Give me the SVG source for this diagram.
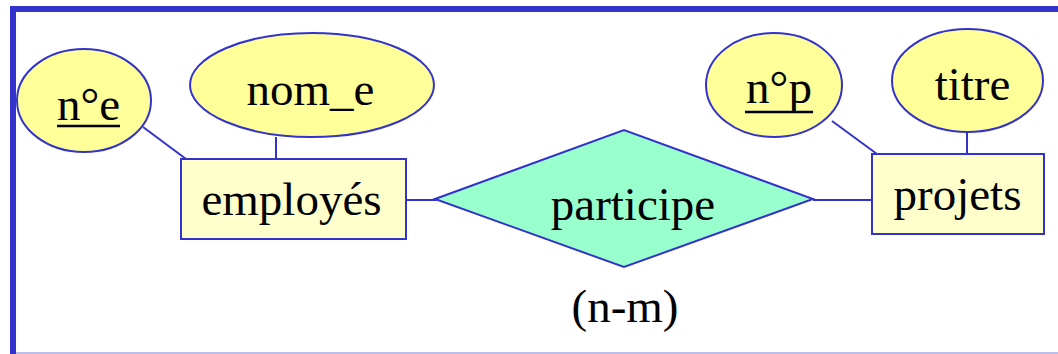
<svg xmlns="http://www.w3.org/2000/svg" width="1058" height="354" viewBox="0 0 1058 354">
  <style>
    .attr { fill: #ffff99; stroke: #3333cc; stroke-width: 2; }
    .ent { fill: #ffffcc; stroke: #3333cc; stroke-width: 2; }
    .rel { fill: #99ffcc; stroke: #3333cc; stroke-width: 2; }
    .lbl { font-family: 'Liberation Serif', 'Times New Roman', serif; font-size: 47px; fill: #000; text-anchor: middle; }
    .ul { stroke: #000; stroke-width: 2.5; }
    .link { stroke: #3333cc; stroke-width: 2; fill: none; }
  </style>

  <!-- frame -->
  <rect x="0" y="0" width="1058" height="354" fill="#ffffff"/>
  <rect x="10" y="6" width="1048" height="6" fill="#3333cc"/>
  <rect x="10" y="6" width="6" height="348" fill="#3333cc"/>
  <line x1="16" y1="353" x2="1058" y2="353" stroke="#aaaadd" stroke-width="1.5"/>

  <!-- connectors -->
  <g id="connectors">
    <line class="link" x1="143" y1="127" x2="186" y2="159"/>
    <line class="link" x1="276" y1="137" x2="276" y2="159"/>
    <line class="link" x1="406" y1="200" x2="437" y2="200"/>
    <line class="link" x1="813" y1="200" x2="872" y2="200"/>
    <line class="link" x1="832" y1="121" x2="877" y2="154"/>
    <line class="link" x1="967" y1="132" x2="967" y2="154"/>
  </g>

  <!-- employés entity and its attributes -->
  <g id="attr-ne">
    <ellipse class="attr" cx="84" cy="100.5" rx="67" ry="51.5"/>
    <text class="lbl" x="88.5" y="120">n°e</text>
    <line class="ul" x1="57" y1="126" x2="120" y2="126"/>
  </g>
  <g id="attr-nom-e">
    <ellipse class="attr" cx="312" cy="85" rx="122" ry="52"/>
    <text class="lbl" x="310.5" y="105">nom_e</text>
  </g>
  <g id="employes">
    <rect class="ent" x="181" y="159" width="225" height="80"/>
    <text class="lbl" x="291.5" y="215">employés</text>
  </g>

  <!-- relationship -->
  <g id="participe">
    <polygon class="rel" points="435,199 624,130 813,199 624,267"/>
    <text class="lbl" x="633" y="220">participe</text>
  </g>
  <g id="cardinality">
    <text class="lbl" x="625" y="322">(n-m)</text>
  </g>

  <!-- projets entity and its attributes -->
  <g id="attr-np">
    <ellipse class="attr" cx="774" cy="85" rx="68" ry="52"/>
    <text class="lbl" x="779" y="103">n°p</text>
    <line class="ul" x1="745" y1="112" x2="813" y2="112"/>
  </g>
  <g id="attr-titre">
    <ellipse class="attr" cx="967.5" cy="80.5" rx="75.5" ry="51.5"/>
    <text class="lbl" x="972.5" y="100">titre</text>
  </g>
  <g id="projets">
    <rect class="ent" x="872" y="154" width="172" height="80"/>
    <text class="lbl" x="957.5" y="210">projets</text>
  </g>
</svg>
